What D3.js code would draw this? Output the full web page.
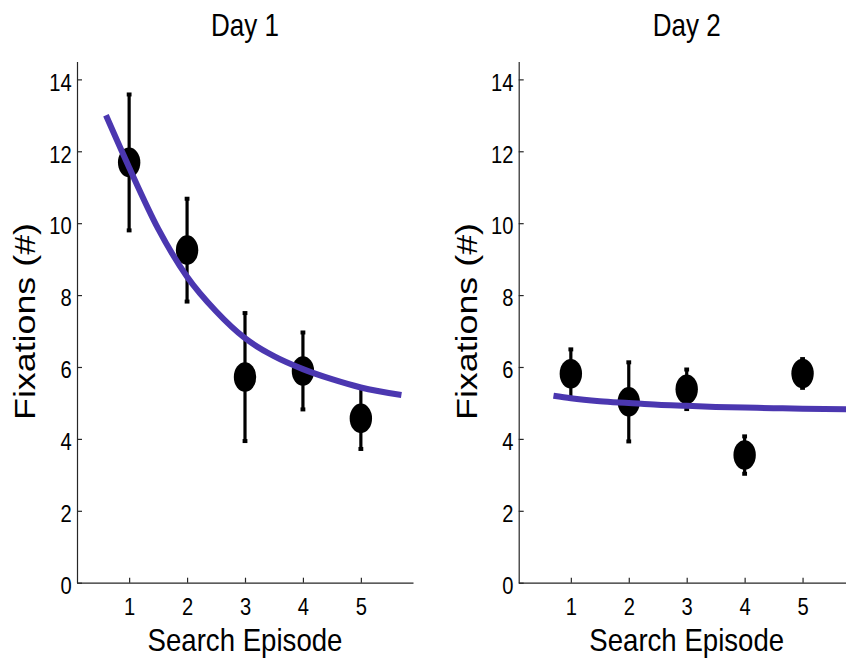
<!DOCTYPE html>
<html>
<head>
<meta charset="utf-8">
<script src="https://cdn.jsdelivr.net/npm/d3@7"></script>
<style>
  html, body { margin: 0; padding: 0; background: #fff; }
  svg { display: block; font-family: "Liberation Sans", Arial, Helvetica, sans-serif; }
</style>
</head>
<body>
<svg id="chart" width="846" height="660"></svg>
<script>
// Search episodes on the x axis
const episodes = [1, 2, 3, 4, 5];
const xTicks = [1, 2, 3, 4, 5];
const yTicks = [0, 2, 4, 6, 8, 10, 12, 14];
const panelTitles = ["Day 1", "Day 2"];

// Mean number of fixations per episode, with error bar half-widths
const day1Mean = [11.69, 9.25, 5.72, 5.89, 4.57];
const day1Err  = [1.89, 1.43, 1.78, 1.07, 0.85];
const day2Mean = [5.81, 5.03, 5.38, 3.55, 5.82];
const day2Err  = [0.68, 1.10, 0.55, 0.52, 0.40];

// Fitted decay curves, sampled along the episode axis
const day1FitX = [0.6, 1.0, 1.5, 2.0, 2.5, 3.0, 3.5, 4.0, 4.5, 5.0, 5.7];
const day1FitY = [13.0, 11.55, 9.85, 8.51, 7.55, 6.80, 6.30, 5.94, 5.66, 5.43, 5.22];
const day2FitX = [0.7, 1.0, 1.5, 2.0, 2.5, 3.0, 3.5, 4.0, 4.5, 5.0, 5.9];
const day2FitY = [5.20, 5.13, 5.05, 5.00, 4.95, 4.92, 4.89, 4.87, 4.855, 4.84, 4.82];

const panels = [
  { title: panelTitles[0], mean: day1Mean, err: day1Err, fitX: day1FitX, fitY: day1FitY, left: 77 },
  { title: panelTitles[1], mean: day2Mean, err: day2Err, fitX: day2FitX, fitY: day2FitY, left: 518.7 }
];

const svg = d3.select("#chart");
const plotW = 336;
const y = d3.scaleLinear().domain([0, 14.5]).range([582.7, 61.4]);
const axisColor = "#262626";
const fitColor = "#4b37b0";
const tickScale = 0.84;

// Squeeze a text element horizontally so it spans a given width
function fitWidth(textSel, width, baseTransform) {
  const len = textSel.node().getComputedTextLength();
  textSel.attr("transform", `${baseTransform} scale(${width / len},1)`);
}

panels.forEach(p => {
  const x = d3.scaleLinear().domain([0.1, 5.9]).range([p.left, p.left + plotW]);
  const g = svg.append("g");

  // y axis
  const yAxis = g.append("g")
    .attr("transform", `translate(${p.left},0)`)
    .call(d3.axisLeft(y).tickValues(yTicks).tickFormat(d3.format("d"))
      .tickSizeInner(-5).tickSizeOuter(0).tickPadding(5.3));
  yAxis.selectAll("text")
    .attr("font-size", 24).attr("fill", "#000")
    .attr("dy", "0.45em")
    .attr("x", -5.3 / tickScale)
    .attr("transform", `scale(${tickScale},1)`);

  // x axis
  const xAxis = g.append("g")
    .attr("transform", `translate(0,${y(0)})`)
    .call(d3.axisBottom(x).tickValues(xTicks).tickFormat(d3.format("d"))
      .tickSizeInner(-5).tickSizeOuter(0).tickPadding(15.3));
  xAxis.selectAll("text")
    .attr("font-size", 24).attr("fill", "#000")
    .attr("transform", `scale(${tickScale},1)`);

  [yAxis, xAxis].forEach(a => {
    a.select(".domain").attr("stroke", axisColor).attr("stroke-width", 1.2);
    a.selectAll(".tick line").attr("stroke", axisColor).attr("stroke-width", 1.2);
  });

  // Error bars
  const bars = g.append("g").selectAll("g").data(episodes).join("g");
  bars.append("line")
    .attr("x1", (d) => x(d)).attr("x2", (d) => x(d))
    .attr("y1", (d, i) => y(p.mean[i] + p.err[i]))
    .attr("y2", (d, i) => y(p.mean[i] - p.err[i]))
    .attr("stroke", "#000").attr("stroke-width", 3.2);
  [1, -1].forEach(sign => {
    bars.append("rect")
      .attr("x", (d) => x(d) - 2.4).attr("width", 4.8)
      .attr("y", (d, i) => y(p.mean[i] + sign * p.err[i]) - 2).attr("height", 4)
      .attr("fill", "#000");
  });

  // Mean markers
  g.append("g").selectAll("ellipse").data(episodes).join("ellipse")
    .attr("cx", (d) => x(d))
    .attr("cy", (d, i) => y(p.mean[i]))
    .attr("rx", 11.2).attr("ry", 14.8)
    .attr("fill", "#000");

  // Fitted curve
  const line = d3.line()
    .x(d => x(d[0])).y(d => y(d[1]))
    .curve(d3.curveMonotoneX);
  g.append("path")
    .datum(p.fitX.map((v, i) => [v, p.fitY[i]]))
    .attr("d", line)
    .attr("fill", "none")
    .attr("stroke", fitColor)
    .attr("stroke-width", 6);

  // Panel title
  const cx = p.left + plotW / 2;
  const title = g.append("text")
    .attr("text-anchor", "middle").attr("font-size", 32).attr("fill", "#000")
    .text(p.title);
  fitWidth(title, 68, `translate(${cx},36)`);

  // Axis titles
  const xt = g.append("text")
    .attr("text-anchor", "middle").attr("font-size", 31).attr("fill", "#000")
    .text("Search Episode");
  fitWidth(xt, 195, `translate(${cx},650.7)`);

  const yt = g.append("text")
    .attr("text-anchor", "middle").attr("font-size", 30).attr("fill", "#000")
    .text("Fixations (#)");
  fitWidth(yt, 197, `translate(${p.left - 42},321.5) rotate(-90)`);
});
</script>
</body>
</html>
